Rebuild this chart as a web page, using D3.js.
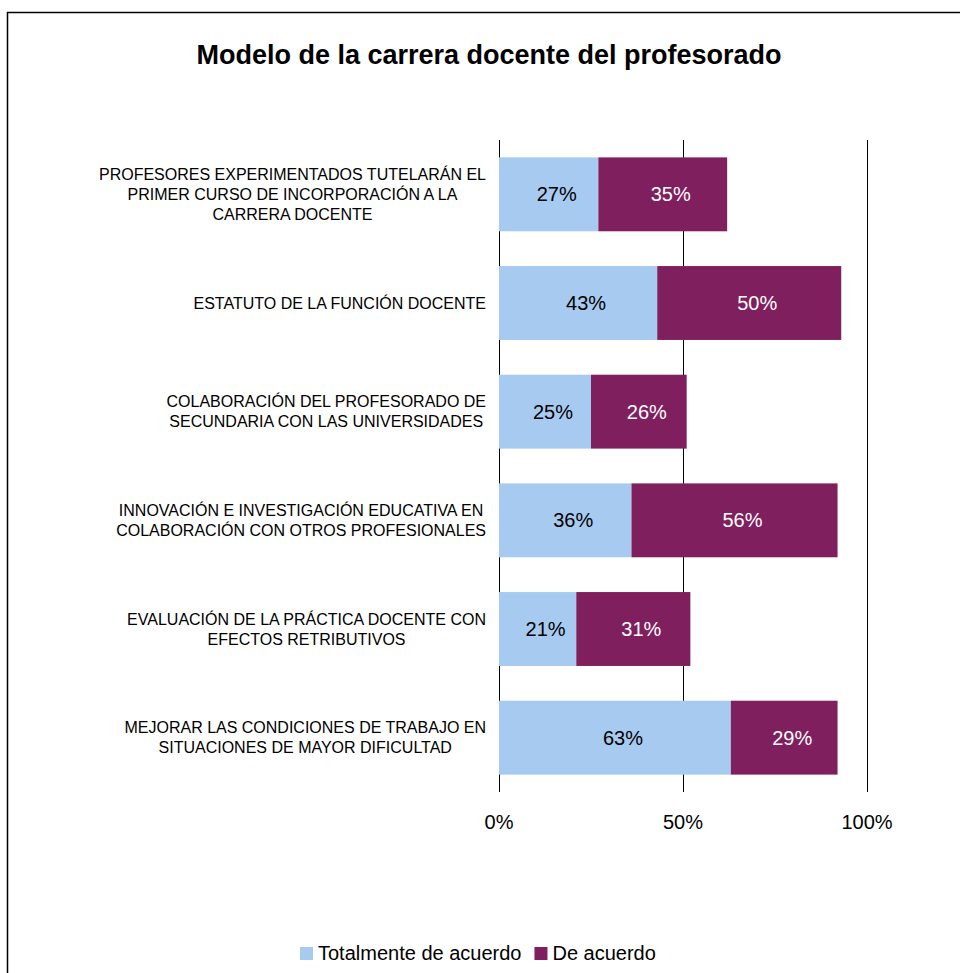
<!DOCTYPE html>
<html lang="es">
  <head>
    <meta charset="UTF-8" />
    <title>Modelo de la carrera docente del profesorado</title>
    <style>
      body { margin: 0; background: #fff; }
      svg { display: block; font-family: 'Liberation Sans', Arial, sans-serif; }
    </style>
  </head>
  <body>
    <svg id="chart"></svg>
    <script src="https://d3js.org/d3.v7.min.js"></script>
    <script>
      const categories = [
        ['PROFESORES EXPERIMENTADOS TUTELARÁN EL', 'PRIMER CURSO DE INCORPORACIÓN A LA', 'CARRERA DOCENTE'],
        ['ESTATUTO DE LA FUNCIÓN DOCENTE'],
        ['COLABORACIÓN DEL PROFESORADO DE', 'SECUNDARIA CON LAS UNIVERSIDADES'],
        ['INNOVACIÓN E INVESTIGACIÓN EDUCATIVA EN', 'COLABORACIÓN CON OTROS PROFESIONALES'],
        ['EVALUACIÓN DE LA PRÁCTICA DOCENTE CON', 'EFECTOS RETRIBUTIVOS'],
        ['MEJORAR LAS CONDICIONES DE TRABAJO EN', 'SITUACIONES DE MAYOR DIFICULTAD'],
      ];
      const totalmente = [27, 43, 25, 36, 21, 63];
      const deAcuerdo = [35, 50, 26, 56, 31, 29];
      const seriesNames = ['Totalmente de acuerdo', 'De acuerdo'];
      const tickValues = [0, 50, 100];

      const width = 960;
      const height = 973;
      const margin = { top: 140, left: 499, right: 93, bottom: 181 };
      const colors = ['#a7caf0', '#7f1f5e'];

      const svg = d3.select('#chart').attr('width', width).attr('height', height);

      // chart frame (runs off the page on the right and bottom)
      svg.append('rect')
        .attr('x', 7.5).attr('y', 12.5)
        .attr('width', width + 20).attr('height', height + 20)
        .attr('fill', 'none').attr('stroke', '#000').attr('stroke-width', 1.5);

      svg.append('text')
        .attr('x', 489).attr('y', 64)
        .attr('text-anchor', 'middle')
        .style('font-size', '27px').style('font-weight', 'bold')
        .text('Modelo de la carrera docente del profesorado');

      const x = d3.scaleLinear().domain([0, 100]).range([margin.left, width - margin.right]);
      const y = d3.scaleBand()
        .domain(d3.range(categories.length))
        .range([margin.top, height - margin.bottom])
        .paddingInner(0.32).paddingOuter(0.16);

      // grid lines
      svg.append('g')
        .selectAll('line')
        .data(tickValues)
        .join('line')
        .attr('x1', (d) => x(d) + 0.5).attr('x2', (d) => x(d) + 0.5)
        .attr('y1', margin.top).attr('y2', height - margin.bottom)
        .attr('stroke', '#000').attr('stroke-width', 1);

      const rows = categories.map((c, i) => ({ i, values: [totalmente[i], deAcuerdo[i]] }));

      const segs = [];
      rows.forEach((r) => {
        let start = 0;
        r.values.forEach((v, s) => {
          segs.push({ i: r.i, s, start, end: start + v, v });
          start += v;
        });
      });

      svg.append('g')
        .selectAll('rect')
        .data(segs)
        .join('rect')
        .attr('x', (d) => x(d.start))
        .attr('width', (d) => x(d.end) - x(d.start))
        .attr('y', (d) => y(d.i))
        .attr('height', y.bandwidth())
        .attr('fill', (d) => colors[d.s]);

      // value labels sit a little right of the segment centre, as in the original
      svg.append('g')
        .selectAll('text')
        .data(segs)
        .join('text')
        .attr('x', (d) => (x(d.start) + x(d.end)) / 2 + 8)
        .attr('y', (d) => y(d.i) + y.bandwidth() / 2)
        .attr('dy', '0.35em')
        .attr('text-anchor', 'middle')
        .style('font-size', '20px')
        .attr('fill', (d) => (d.s === 0 ? '#000' : '#fff'))
        .text((d) => d.v + '%');

      // category labels: block right aligned to the axis, lines centred in the block
      const lineH = 20;
      const labelRight = 486;
      const labels = svg.append('g');
      categories.forEach((lines, i) => {
        const t = labels.append('text')
          .attr('text-anchor', 'middle')
          .style('font-size', '16px')
          .attr('fill', '#000');
        const cy = y(i) + y.bandwidth() / 2;
        lines.forEach((ln, k) => {
          t.append('tspan')
            .attr('y', cy + (k - (lines.length - 1) / 2) * lineH)
            .attr('dy', '0.35em')
            .text(ln);
        });
        let maxW = 0;
        t.selectAll('tspan').each(function () {
          maxW = Math.max(maxW, this.getComputedTextLength());
        });
        t.selectAll('tspan').attr('x', labelRight - maxW / 2);
      });

      // x axis labels
      svg.append('g')
        .selectAll('text')
        .data(tickValues)
        .join('text')
        .attr('x', (d) => x(d))
        .attr('y', 822)
        .attr('dy', '0.35em')
        .attr('text-anchor', 'middle')
        .style('font-size', '20px')
        .text((d) => d + '%');

      // legend
      const legend = svg.append('g').attr('transform', 'translate(300,953)');
      let lx = 0;
      seriesNames.forEach((name, s) => {
        legend.append('rect')
          .attr('x', lx).attr('y', -6)
          .attr('width', 13).attr('height', 13)
          .attr('fill', colors[s]);
        const t = legend.append('text')
          .attr('x', lx + 18).attr('y', 0)
          .attr('dy', '0.35em')
          .style('font-size', '20px')
          .text(name);
        lx += 18 + t.node().getComputedTextLength() + 13;
      });
    </script>
  </body>
</html>
